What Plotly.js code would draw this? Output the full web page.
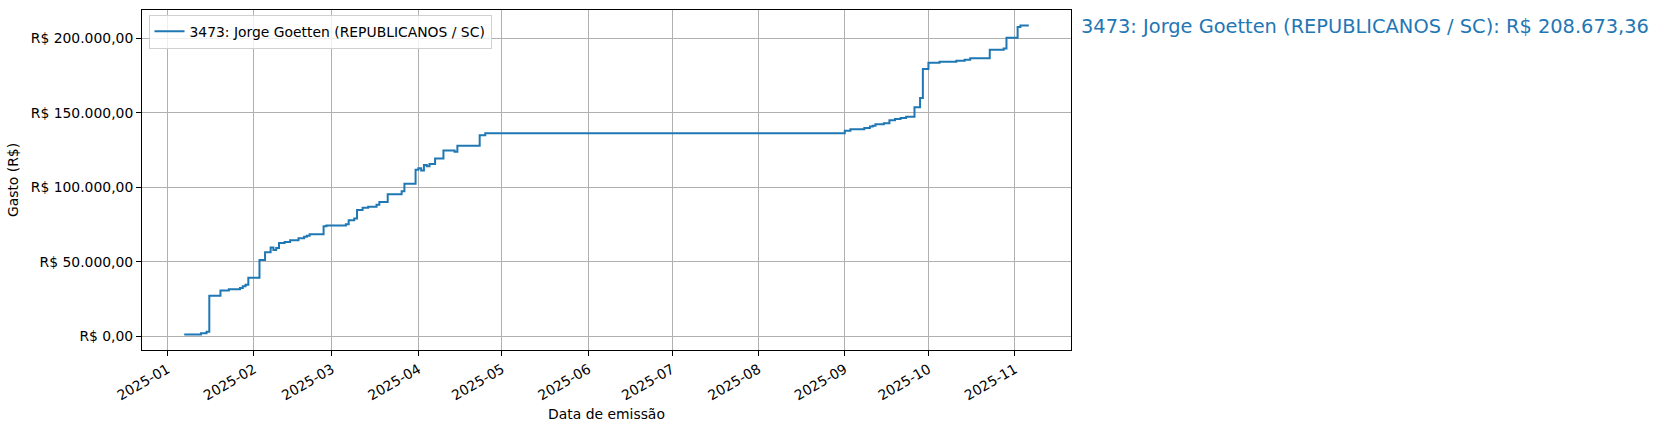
<!DOCTYPE html>
<html>
<head>
<meta charset="utf-8">
<script src="https://cdn.plot.ly/plotly-3.0.1.min.js"></script>
<style>html,body{margin:0;padding:0;background:#fff;}#chart{width:1659px;height:430px;}</style>
</head>
<body>
<div id="chart"></div>
<script>
const seriesName = "3473: Jorge Goetten (REPUBLICANOS / SC)";
const dates = [
  "2025-01-07","2025-01-13","2025-01-15","2025-01-16","2025-01-20","2025-01-23","2025-01-27","2025-01-28","2025-01-29","2025-01-30",
  "2025-02-03","2025-02-05","2025-02-07","2025-02-08","2025-02-09","2025-02-10","2025-02-12","2025-02-14","2025-02-17","2025-02-19",
  "2025-02-20","2025-02-21","2025-02-26","2025-02-27","2025-03-06","2025-03-07","2025-03-09","2025-03-10","2025-03-12","2025-03-14",
  "2025-03-17","2025-03-18","2025-03-21","2025-03-26","2025-03-27","2025-03-31","2025-04-01","2025-04-02","2025-04-03","2025-04-04",
  "2025-04-05","2025-04-07","2025-04-10","2025-04-14","2025-04-15","2025-04-23","2025-04-25",
  "2025-09-01","2025-09-03","2025-09-08","2025-09-10","2025-09-11","2025-09-12","2025-09-15","2025-09-17","2025-09-19","2025-09-21",
  "2025-09-23","2025-09-26","2025-09-28","2025-09-29","2025-10-01","2025-10-05","2025-10-11","2025-10-14","2025-10-16","2025-10-23",
  "2025-10-28","2025-10-29","2025-11-02","2025-11-03","2025-11-06"
];
const values = [
  1100,2000,3000,27200,30600,31500,32400,33600,34500,39200,
  51100,56300,59600,57800,59200,62600,63300,64400,65800,66700,
  67500,68500,73850,74300,75200,77900,79000,84700,86200,86900,
  88300,90100,95250,97300,102450,111700,112800,111200,115000,114100,
  115700,119350,124750,123800,127900,134900,136240,
  138040,138950,139850,140750,141400,142330,143000,145030,145930,146600,
  147280,153800,159900,179500,183550,184230,184900,185580,186700,192330,
  193230,200430,207600,208673.36,208673.36
];
const yTickVals = [0, 50000, 100000, 150000, 200000];
const yTickText = ["R$ 0,00", "R$ 50.000,00", "R$ 100.000,00", "R$ 150.000,00", "R$ 200.000,00"];
const totalLabel = "R$ 208.673,36";
const xTitle = "Data de emissão";
const yTitle = "Gasto (R$)";

// matplotlib-like 5% margins computed from the data
const tms = dates.map(d => new Date(d + "T00:00:00Z").getTime());
const tmin = Math.min(...tms), tmax = Math.max(...tms);
const tpad = (tmax - tmin) * 0.05;
const vmin = Math.min(...values), vmax = Math.max(...values);
const vpad = (vmax - vmin) * 0.05;
const iso = t => new Date(t).toISOString().slice(0, 19).replace("T", " ");

const font = "DejaVu Sans, Verdana, sans-serif";
const trace = {
  x: dates, y: values, type: "scatter", mode: "lines",
  line: {shape: "hv", color: "#1f77b4", width: 2},
  name: seriesName
};
const axisCommon = {
  showline: true, mirror: true, linecolor: "#000", linewidth: 1,
  ticks: "outside", ticklen: 5, tickwidth: 1, tickcolor: "#000",
  showgrid: true, gridcolor: "#b0b0b0", gridwidth: 1, zeroline: false,
  tickfont: {family: font, size: 13.9, color: "#000"}
};
const layout = {
  width: 1659, height: 430,
  margin: {l: 142, r: 588, t: 10, b: 80},
  paper_bgcolor: "#fff", plot_bgcolor: "#fff",
  font: {family: font, color: "#000"},
  showlegend: true,
  legend: {
    x: 0.007, y: 0.986, xanchor: "left", yanchor: "top",
    bgcolor: "rgba(255,255,255,0.8)", bordercolor: "#d0d0d0", borderwidth: 1,
    font: {family: font, size: 13.9, color: "#000"}
  },
  xaxis: Object.assign({}, axisCommon, {
    type: "date", range: [iso(tmin - tpad), iso(tmax + tpad)],
    tick0: "2025-01-01", dtick: "M1", tickformat: "%Y-%m", tickangle: -30,
    title: {text: xTitle, font: {family: font, size: 13.9, color: "#000"}, standoff: 6}
  }),
  yaxis: Object.assign({}, axisCommon, {
    range: [vmin - vpad, vmax + vpad],
    tickmode: "array", tickvals: yTickVals, ticktext: yTickText,
    title: {text: yTitle, font: {family: font, size: 13.9, color: "#000"}, standoff: 8}
  }),
  annotations: [{
    xref: "paper", yref: "y", x: 1.0086, y: values[values.length - 1],
    xanchor: "left", yanchor: "middle", yshift: -1, showarrow: false,
    text: seriesName + ": " + totalLabel,
    font: {family: font, size: 19.4, color: "#1f77b4"}
  }]
};
Plotly.newPlot("chart", [trace], layout, {displayModeBar: false, staticPlot: true});
</script>
</body>
</html>
